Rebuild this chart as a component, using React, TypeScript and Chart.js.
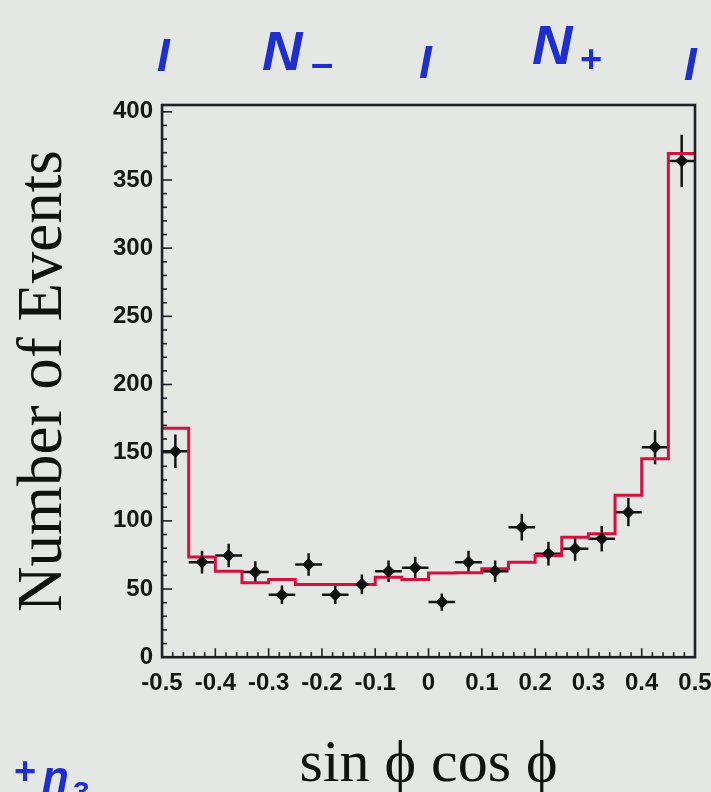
import React, { useEffect, useRef } from "react";
import { Chart, registerables } from "chart.js";

Chart.register(...registerables);

// ---- data ----
const binLowEdges = [-0.5, -0.45, -0.4, -0.35, -0.3, -0.25, -0.2, -0.15, -0.1, -0.05, 0, 0.05, 0.1, 0.15, 0.2, 0.25, 0.3, 0.35, 0.4, 0.45];
const lastBinUpperEdge = 0.5;
const binCenters = [-0.475, -0.425, -0.375, -0.325, -0.275, -0.225, -0.175, -0.125, -0.075, -0.025, 0.025, 0.075, 0.125, 0.175, 0.225, 0.275, 0.325, 0.375, 0.425, 0.475];
const binHalfWidth = 0.025;
const modelCounts = [168, 73.4, 63.1, 54.6, 57, 53.4, 53.4, 53.4, 58.7, 57, 61.7, 62, 64.9, 69.7, 74.6, 88, 90.6, 118.7, 145.6, 369.5];
const dataCounts = [151, 69.7, 74.6, 62.4, 45.8, 68, 45.8, 53.4, 63.1, 65.6, 40.4, 69.7, 63.1, 95.4, 75.9, 79.6, 86.9, 106.4, 154, 364];
const dataErrors = [12.3, 8.3, 8.6, 7.9, 6.8, 8.2, 6.8, 7.3, 7.9, 8.1, 6.4, 8.3, 7.9, 9.8, 8.7, 8.9, 9.3, 10.3, 12.4, 19.1];
const yTickValues = [0, 50, 100, 150, 200, 250, 300, 350, 400];
const xTickValues = [-0.5, -0.4, -0.3, -0.2, -0.1, 0, 0.1, 0.2, 0.3, 0.4, 0.5];
const xTickLabels = ["-0.5", "-0.4", "-0.3", "-0.2", "-0.1", "0", "0.1", "0.2", "0.3", "0.4", "0.5"];

const xTitle = "sin \u03D5 cos \u03D5";
const yTitle = "Number of Events";

const BG = "#e4e7e3";
const FRAME = "#202028";
const RED = "#d3103f";
const BLUE = "#1f2fcf";

const backgroundPlugin = {
  id: "bg",
  beforeDraw(chart: any) {
    const { ctx, width, height } = chart;
    ctx.save();
    ctx.fillStyle = BG;
    ctx.fillRect(0, 0, width, height);
    ctx.restore();
  },
};

const errorBarPlugin = {
  id: "errorBars",
  beforeDatasetsDraw(chart: any) {
    const { ctx, scales } = chart;
    const xs = scales.x;
    const ys = scales.y;
    ctx.save();
    ctx.strokeStyle = "#151515";
    ctx.lineWidth = 2.5;
    for (let i = 0; i < binCenters.length; i++) {
      const cx = xs.getPixelForValue(binCenters[i]);
      const cy = ys.getPixelForValue(dataCounts[i]);
      const x0 = xs.getPixelForValue(binCenters[i] - binHalfWidth);
      const x1 = xs.getPixelForValue(binCenters[i] + binHalfWidth);
      const y0 = ys.getPixelForValue(dataCounts[i] - dataErrors[i]);
      const y1 = ys.getPixelForValue(dataCounts[i] + dataErrors[i]);
      ctx.beginPath();
      ctx.moveTo(x0, cy);
      ctx.lineTo(x1, cy);
      ctx.moveTo(cx, y0);
      ctx.lineTo(cx, y1);
      ctx.stroke();
    }
    ctx.restore();
  },
};

const framePlugin = {
  id: "frame",
  afterDraw(chart: any) {
    const { ctx, chartArea, scales } = chart;
    const { left, right, top, bottom } = chartArea;
    ctx.save();
    ctx.strokeStyle = FRAME;
    ctx.lineWidth = 1.6;
    // inward ticks on y axis: major every 50, minor every 10
    for (let i = 0; i <= 40; i++) {
      const py = scales.y.getPixelForValue(i * 10);
      const len = i % 5 === 0 ? 10 : 5;
      ctx.beginPath();
      ctx.moveTo(left, py);
      ctx.lineTo(left + len, py);
      ctx.stroke();
    }
    // inward ticks on x axis: major every 0.1, minor every 0.02
    for (let i = 0; i <= 50; i++) {
      const px = scales.x.getPixelForValue(-0.5 + i * 0.02);
      const len = i % 5 === 0 ? 9 : 5;
      ctx.beginPath();
      ctx.moveTo(px, bottom);
      ctx.lineTo(px, bottom - len);
      ctx.stroke();
    }
    ctx.lineWidth = 2.6;
    ctx.strokeRect(left, top, right - left, bottom - top);
    ctx.restore();

    // blue handwritten annotations
    ctx.save();
    ctx.fillStyle = BLUE;
    ctx.textBaseline = "alphabetic";
    ctx.textAlign = "left";
    ctx.font = "italic bold 46px 'Liberation Sans'";
    ctx.fillText("I", 157, 71);
    ctx.fillText("I", 419, 78);
    ctx.fillText("I", 684, 80);
    ctx.font = "italic bold 56px 'Liberation Sans'";
    ctx.fillText("N", 262, 70);
    ctx.fillText("N", 532, 64);
    ctx.font = "bold 40px 'Liberation Sans'";
    ctx.textBaseline = "middle";
    ctx.fillText("\u2013", 311, 66);
    ctx.font = "bold 38px 'Liberation Sans'";
    ctx.fillText("+", 580, 62);
    ctx.fillText("+", 14, 774);
    ctx.textBaseline = "alphabetic";
    ctx.font = "italic bold 44px 'Liberation Sans'";
    ctx.fillText("n", 42, 792);
    ctx.font = "bold 30px 'Liberation Sans'";
    ctx.fillText("3", 73, 802);
    ctx.restore();
  },
};

export default function App() {
  const canvasRef = useRef<HTMLCanvasElement | null>(null);

  useEffect(() => {
    const canvas = canvasRef.current;
    if (!canvas) return;

    const stepPoints = binLowEdges.map((x, i) => ({ x, y: modelCounts[i] }));
    stepPoints.push({ x: lastBinUpperEdge, y: modelCounts[modelCounts.length - 1] });
    const dataPoints = binCenters.map((x, i) => ({ x, y: dataCounts[i] }));

    const chart = new Chart(canvas, {
      type: "scatter",
      data: {
        datasets: [
          {
            label: "Data",
            data: dataPoints,
            showLine: false,
            pointStyle: "rectRot",
            pointRadius: 6,
            pointBackgroundColor: "#111111",
            pointBorderColor: "#111111",
            pointBorderWidth: 1,
          },
          {
            type: "line",
            label: "Model",
            data: stepPoints,
            stepped: true,
            borderColor: RED,
            borderWidth: 3,
            pointRadius: 0,
            fill: false,
          } as any,
        ],
      },
      options: {
        animation: false,
        responsive: true,
        maintainAspectRatio: false,
        layout: { padding: { top: 105, right: 16, bottom: 0, left: 0 } },
        plugins: {
          legend: { display: false },
          tooltip: { enabled: false },
        },
        scales: {
          x: {
            type: "linear",
            min: -0.5,
            max: 0.5,
            grid: { display: false, drawTicks: false },
            border: { display: false },
            afterBuildTicks: (scale: any) => {
              scale.ticks = xTickValues.map((v) => ({ value: v }));
            },
            afterFit: (scale: any) => {
              scale.paddingLeft = 0;
              scale.paddingRight = 0;
            },
            ticks: {
              padding: 12,
              color: "#151515",
              font: { family: "'Liberation Sans'", size: 24, weight: "bold" },
              callback: (_v: any, i: number) => xTickLabels[i],
            },
            title: {
              display: true,
              text: xTitle,
              color: "#111111",
              font: { family: "'Liberation Serif'", size: 60, lineHeight: 0.9 },
              padding: { top: 28, bottom: 0 },
            },
          },
          y: {
            type: "linear",
            min: 0,
            max: 405,
            grid: { display: false, drawTicks: false },
            border: { display: false },
            afterBuildTicks: (scale: any) => {
              scale.ticks = yTickValues.map((v) => ({ value: v }));
            },
            ticks: {
              padding: 9,
              color: "#151515",
              font: { family: "'Liberation Sans'", size: 24, weight: "bold" },
            },
            title: {
              display: true,
              text: yTitle,
              color: "#111111",
              font: { family: "'Liberation Serif'", size: 63, lineHeight: 1 },
              padding: { top: 13, bottom: 28 },
            },
          },
        },
      },
      plugins: [backgroundPlugin, errorBarPlugin, framePlugin],
    });

    return () => chart.destroy();
  }, []);

  return (
    <div style={{ position: "absolute", left: 0, top: 0, width: 711, height: 792, background: BG }}>
      <canvas ref={canvasRef} style={{ display: "block" }} />
    </div>
  );
}
